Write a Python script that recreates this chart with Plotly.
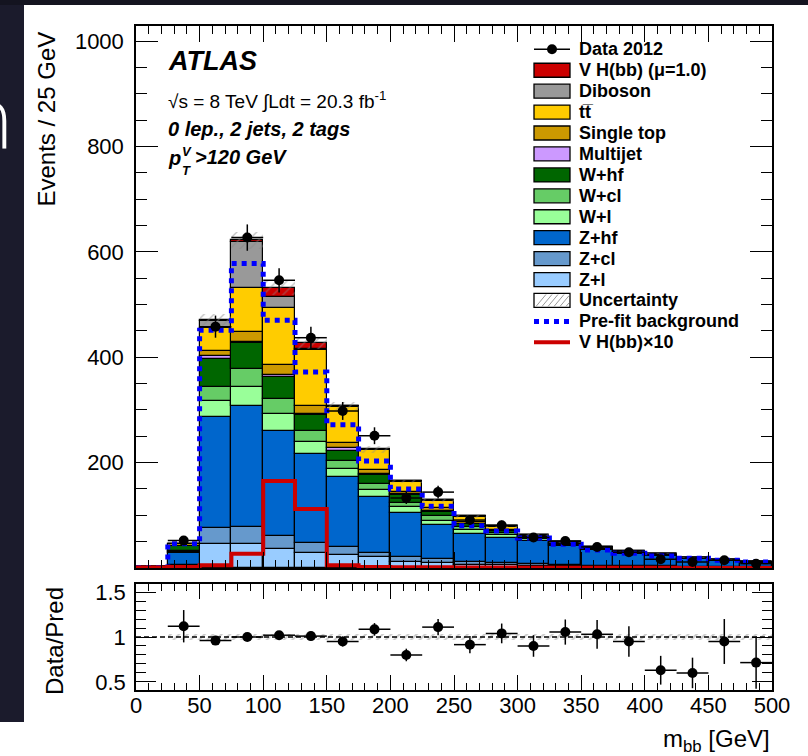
import plotly.graph_objects as go

# ---------------- data ----------------
bin_lo = list(range(0, 500, 25))
centers = [b + 12.5 for b in bin_lo]
edges = list(range(0, 525, 25))

data = [None, 52, 458, 627, 546, 437, 298, 251, 133, 144, 91, 81, 58, 51, 40, 30, 16.5, 11.5, 14.6, 8.2]
data_err = [None, 7.2, 21, 25, 23, 21, 17, 16, 11.5, 12, 9.5, 9, 7.6, 7.1, 6.3, 5.5, 4.1, 3.4, 3.8, 2.9]

z_l = [0.3, 2, 45, 45, 37, 29, 25, 20, 12, 10, 6, 5, 4, 3, 2.5, 2, 1.8, 1.5, 1.2, 1.0]
z_cl = [0.2, 3, 31, 32, 24, 19, 14, 9, 9, 7, 6, 4.5, 3.5, 2.5, 2, 1.5, 1.3, 1, 0.8, 0.6]
z_hf = [0.5, 24, 210, 231, 199, 168, 133, 106, 84, 65, 53, 48, 43, 37, 30, 24, 20.5, 15, 11.8, 8.8]
w_l = [0, 2, 30, 36, 32, 23.5, 16, 13, 11, 8, 7, 5, 4, 2, 1.5, 1.5, 1.2, 1, 0.8, 0.6]
w_cl = [0, 2, 27, 34, 28, 20.5, 16, 11, 8, 8, 5, 3, 2, 1, 1, 0.8, 0.6, 0.5, 0.3, 0.2]
w_hf = [0, 8, 54, 49, 42, 30, 18, 17, 15, 9, 6, 4, 2, 1.5, 1, 0.8, 0.6, 0.5, 0.4, 0.3]
multijet = [0, 0.3, 5, 2, 4, 2, 5, 3, 2, 2, 1, 1, 0.5, 0.3, 0.3, 0.2, 0.2, 0.1, 0.1, 0.1]
single_top = [0, 1, 10, 19, 20, 16, 11, 7, 4, 4, 3, 2, 1, 0.5, 0.3, 0.2, 0.2, 0.1, 0.1, 0.1]
ttbar = [0, 3, 43, 84, 107, 105, 68, 37, 19, 15, 10, 6, 2, 0.8, 0.4, 0.3, 0.2, 0.1, 0.1, 0.1]
diboson = [0, 1, 14.6, 87, 22, 3, 1, 1.6, 1, 1, 1, 0.6, 0.3, 0.2, 0.1, 0.1, 0.1, 0.1, 0.1, 0.05]
vh = [0, 0.2, 0.6, 2.7, 16.5, 11.2, 0.5, 0.3, 0.2, 0.15, 0.1, 0.1, 0.08, 0.06, 0.05, 0.04, 0.03, 0.03, 0.02, 0.02]

unc = [0.3, 2, 12, 16, 14, 11, 8, 6, 4.5, 3.5, 2.8, 2.3, 1.8, 1.4, 1.1, 0.9, 0.8, 0.6, 0.5, 0.4]
prefit = [0.5, 46, 451, 578, 470, 372, 272, 203, 150, 117, 80, 70, 57, 45, 34, 28, 23, 18.4, 14.6, 11.4]
vh_x10 = [1, 2, 5, 27, 165, 112, 5, 2, 1.5, 1.2, 1, 0.8, 0.6, 0.5, 0.4, 0.3, 0.3, 0.2, 0.2, 0.2]

ratio = [None, 1.12, 0.96, 1.0, 1.02, 1.01, 0.95, 1.085, 0.80, 1.11, 0.915, 1.04, 0.90, 1.055, 1.03, 0.95, 0.63, 0.60, 0.95, 0.715]
ratio_err = [None, 0.18, 0.045, 0.04, 0.045, 0.05, 0.055, 0.07, 0.07, 0.09, 0.095, 0.11, 0.12, 0.14, 0.16, 0.17, 0.16, 0.17, 0.25, 0.29]
ratio_band = [0, 0.035, 0.035, 0.035, 0.035, 0.035, 0.035, 0.035, 0.035, 0.035, 0.035, 0.035, 0.035, 0.035, 0.035, 0.035, 0.035, 0.035, 0.035, 0.035]

legend_labels = ["Data 2012", "V H(bb) (\u03bc=1.0)", "Diboson", "tt\u0305", "Single top", "Multijet",
                 "W+hf", "W+cl", "W+l", "Z+hf", "Z+cl", "Z+l", "Uncertainty", "Pre-fit background",
                 "V H(bb)\u00d710"]

# ---------------- figure ----------------
W, H = 808, 756
L, R, T, B = 136, 772, 26, 690


def px(x):
    return (x - L) / (R - L)


def py(y):
    return (B - y) / (B - T)


main_bottom = 568
ratio_top = 584

fig = go.Figure()

layers = [(z_l, "#99ccff"), (z_cl, "#6699cc"), (z_hf, "#0066cc"), (w_l, "#99ff99"),
          (w_cl, "#66cc66"), (w_hf, "#006600"), (multijet, "#cc99ff"), (single_top, "#cc9900"),
          (ttbar, "#ffcc00"), (diboson, "#999999"), (vh, "#cc0000")]
base = [0.0] * len(centers)
for vals, col in layers:
    fig.add_trace(go.Bar(x=centers, y=vals, base=list(base), width=25,
                         marker=dict(color=col, line=dict(color="black", width=1.2)),
                         xaxis="x", yaxis="y", showlegend=False, hoverinfo="skip"))
    base = [b + v for b, v in zip(base, vals)]
total = base

# uncertainty hatch
fig.add_trace(go.Bar(x=centers, y=[2 * u for u in unc], base=[t - u for t, u in zip(total, unc)], width=25,
                     marker=dict(color="rgba(0,0,0,0)", line=dict(width=0),
                                 pattern=dict(shape="/", fgcolor="#888888", bgcolor="rgba(0,0,0,0)",
                                              size=7, solidity=0.2, fillmode="overlay")),
                     xaxis="x", yaxis="y", showlegend=False, hoverinfo="skip"))

# pre-fit background
fig.add_trace(go.Scatter(x=edges, y=prefit + [prefit[-1]], mode="lines", line_shape="hv",
                         line=dict(color="#0000ff", width=5, dash="5px,5px"),
                         xaxis="x", yaxis="y", showlegend=False, hoverinfo="skip"))
# VH x10
fig.add_trace(go.Scatter(x=edges, y=vh_x10 + [vh_x10[-1]], mode="lines", line_shape="hv",
                         line=dict(color="#cc0000", width=4),
                         xaxis="x", yaxis="y", showlegend=False, hoverinfo="skip"))
# data
fig.add_trace(go.Scatter(x=centers, y=data, mode="markers",
                         marker=dict(color="black", size=10),
                         error_y=dict(type="data", array=data_err, color="black", thickness=1.5, width=0),
                         error_x=dict(type="constant", value=12.5, color="black", thickness=1.5, width=0),
                         xaxis="x", yaxis="y", showlegend=False, hoverinfo="skip"))

# ratio panel
fig.add_trace(go.Bar(x=centers, y=[2 * b for b in ratio_band], base=[1 - b for b in ratio_band], width=25,
                     marker=dict(color="rgba(0,0,0,0)", line=dict(width=0),
                                 pattern=dict(shape="/", fgcolor="#999999", bgcolor="rgba(0,0,0,0)",
                                              size=6, solidity=0.35, fillmode="overlay")),
                     xaxis="x2", yaxis="y2", showlegend=False, hoverinfo="skip"))
fig.add_trace(go.Scatter(x=[0, 500], y=[1, 1], mode="lines",
                         line=dict(color="black", width=1.5, dash="5px,3px"),
                         xaxis="x2", yaxis="y2", showlegend=False, hoverinfo="skip"))
fig.add_trace(go.Scatter(x=centers, y=ratio, mode="markers",
                         marker=dict(color="black", size=10),
                         error_y=dict(type="data", array=ratio_err, color="black", thickness=1.5, width=0),
                         error_x=dict(type="constant", value=12.5, color="black", thickness=1.5, width=0),
                         xaxis="x2", yaxis="y2", showlegend=False, hoverinfo="skip"))

font_family = "Liberation Sans, Arial, sans-serif"
axis_common = dict(showline=True, linecolor="black", linewidth=1.5, mirror="ticks",
                   ticks="inside", tickcolor="black", tickwidth=1.3, showgrid=False, zeroline=False)

fig.update_layout(
    width=W, height=H, autosize=False,
    margin=dict(l=L, r=W - R, t=T, b=H - B),
    paper_bgcolor="white", plot_bgcolor="white",
    barmode="overlay", bargap=0,
    font=dict(family=font_family, color="black"),
    xaxis=dict(domain=[0, 1], anchor="y", range=[0, 500], showticklabels=False,
               tickmode="linear", tick0=0, dtick=50, ticklen=16,
               minor=dict(ticks="inside", tickmode="linear", tick0=0, dtick=10, ticklen=8,
                          tickcolor="black", tickwidth=1.2),
               **axis_common),
    yaxis=dict(domain=[py(main_bottom), 1], anchor="x", range=[0, 1028.5],
               tickmode="array", tickvals=[200, 400, 600, 800, 1000], ticklen=22,
               tickfont=dict(size=22), ticklabelstandoff=6,
               minor=dict(ticks="inside", tickmode="linear", tick0=0, dtick=50, ticklen=11,
                          tickcolor="black", tickwidth=1.2),
               **axis_common),
    xaxis2=dict(domain=[0, 1], anchor="y2", range=[0, 500],
                tickmode="array", tickvals=list(range(0, 550, 50)), ticklen=15,
                tickfont=dict(size=22), ticklabelstandoff=-5,
                minor=dict(ticks="inside", tickmode="linear", tick0=0, dtick=10, ticklen=7,
                           tickcolor="black", tickwidth=1.2),
                **axis_common),
    yaxis2=dict(domain=[0, py(ratio_top)], anchor="x2", range=[0.41, 1.59],
                tickmode="array", tickvals=[0.5, 1, 1.5], ticktext=["0.5", "1", "1.5"], ticklen=20,
                tickfont=dict(size=22), ticklabelstandoff=4,
                minor=dict(ticks="inside", tickmode="linear", tick0=0, dtick=0.1, ticklen=10,
                           tickcolor="black", tickwidth=1.2),
                **axis_common),
)

ann = []
shapes = []


def text(x, y, s, size, xanchor="left", yanchor="middle", angle=0, color="black", family=font_family,
         weight="normal"):
    ann.append(dict(x=px(x), y=py(y), xref="paper", yref="paper", text=s, showarrow=False,
                    xanchor=xanchor, yanchor=yanchor, textangle=angle,
                    font=dict(size=size, color=color, family=family, weight=weight)))


# axis titles
text(46, 30, "Events / 25 GeV", 24, xanchor="center", yanchor="top", angle=-90)
text(54, 641, "Data/Pred", 24, xanchor="center", yanchor="middle", angle=-90)
text(772, 740, "m<sub>bb</sub> [GeV]", 24, xanchor="right", yanchor="middle")

# ATLAS labels
text(166, 61, "<b><i>ATLAS</i></b>", 27)
text(166, 101, "\u221as = 8 TeV \u222bLdt = 20.3 fb<sup>-1</sup>", 19)
text(166, 129, "<b><i>0 lep., 2 jets, 2 tags</i></b>", 20)
text(166, 158, "<b><i>p</i></b>", 20)
text(180, 151, "<b><i>V</i></b>", 13)
text(180, 170, "<b><i>T</i></b>", 13)
text(193, 157, "<b><i>>120 GeV</i></b>", 20)

# manual legend
row0, dy = 49.3, 20.93
bx0, bx1 = 534, 570
patch_colors = [None, "#cc0000", "#999999", "#ffcc00", "#cc9900", "#cc99ff", "#006600", "#66cc66",
                "#99ff99", "#0066cc", "#6699cc", "#99ccff"]
for i, lab in enumerate(legend_labels):
    yc = row0 + dy * i
    text(577, yc, "<b>" + lab + "</b>", 18)
    if i == 0:
        shapes.append(dict(type="line", xref="paper", yref="paper", x0=px(bx0), x1=px(bx1),
                           y0=py(yc), y1=py(yc), line=dict(color="black", width=1.5)))
        shapes.append(dict(type="circle", xref="paper", yref="paper", x0=px(547), x1=px(557),
                           y0=py(yc + 5), y1=py(yc - 5), fillcolor="black", line=dict(color="black", width=0)))
    elif i <= 11:
        shapes.append(dict(type="rect", xref="paper", yref="paper", x0=px(bx0), x1=px(bx1),
                           y0=py(yc + 7), y1=py(yc - 7), fillcolor=patch_colors[i],
                           line=dict(color="black", width=1.3)))
    elif i == 12:
        shapes.append(dict(type="rect", xref="paper", yref="paper", x0=px(bx0), x1=px(bx1),
                           y0=py(yc + 7), y1=py(yc - 7), fillcolor="white",
                           line=dict(color="black", width=1.3)))
        for k in range(6):
            xa = bx0 + 2 + k * 6
            xb = min(xa + 10, bx1 - 1)
            shapes.append(dict(type="line", xref="paper", yref="paper", x0=px(xa), x1=px(xb),
                               y0=py(yc + 6), y1=py(yc + 6 - 12 * (xb - xa) / 10),
                               line=dict(color="#999999", width=1)))
    elif i == 13:
        shapes.append(dict(type="line", xref="paper", yref="paper", x0=px(bx0), x1=px(bx1),
                           y0=py(yc), y1=py(yc), line=dict(color="#0000ff", width=5, dash="5px,5px")))
    else:
        shapes.append(dict(type="line", xref="paper", yref="paper", x0=px(bx0), x1=px(bx1),
                           y0=py(yc), y1=py(yc), line=dict(color="#cc0000", width=4)))

# slide background edges
shapes.append(dict(type="rect", xref="paper", yref="paper", x0=px(-5), x1=px(24), y0=py(722), y1=py(-5),
                   fillcolor="#1b1b2c", line=dict(width=0), layer="above"))
shapes.append(dict(type="rect", xref="paper", yref="paper", x0=px(-5), x1=px(813), y0=py(5), y1=py(-5),
                   fillcolor="#141420", line=dict(width=0), layer="above"))
text(17, 120, "n", 84, xanchor="right", yanchor="middle", color="white", family="DejaVu Sans, sans-serif",
     weight=200)

fig.update_layout(annotations=ann, shapes=shapes)
fig.write_html("out.html")
